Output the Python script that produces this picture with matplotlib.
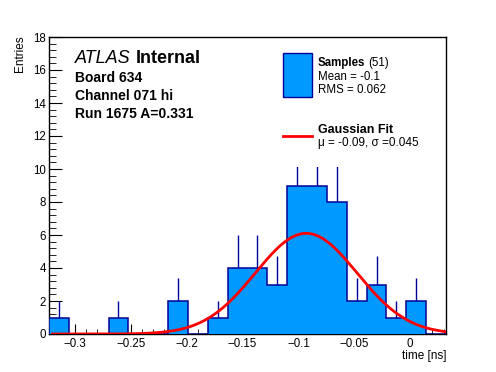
import numpy as np
import matplotlib.pyplot as plt
from matplotlib.patches import Rectangle
from matplotlib.lines import Line2D
from matplotlib.ticker import MultipleLocator

plt.rcParams['font.family'] = ['Liberation Sans', 'DejaVu Sans']

# histogram data (20 bins)
x_min, x_max = -0.3233, 0.0322
counts = [1, 0, 0, 1, 0, 0, 2, 0, 1, 4, 4, 3, 9, 9, 8, 2, 3, 1, 2, 0]
edges = np.linspace(x_min, x_max, len(counts) + 1)

# gaussian fit parameters
fit_amp = 6.1
fit_mu = -0.093
fit_sigma = 0.0455

W, H = 496, 372
fig = plt.figure(figsize=(W / 100, H / 100), dpi=100)
ax = fig.add_axes([49 / W, 1 - 334 / H, (446 - 49) / W, (334 - 37) / H])

def px(x, y):
    return x / W, 1 - y / H

fill_col = '#0099ff'
edge_col = '#000099'

counts = np.array(counts, dtype=float)
centers = 0.5 * (edges[:-1] + edges[1:])
nz = counts > 0
ax.vlines(centers[nz], counts[nz], counts[nz] + np.sqrt(counts[nz]),
          color=edge_col, lw=1, zorder=2)
ax.stairs(counts, edges, fill=True, color=fill_col, zorder=3)
ax.stairs(counts, edges, color=edge_col, lw=1.1, zorder=4)

xs = np.linspace(x_min + 0.003, x_max, 400)
ax.plot(xs, fit_amp * np.exp(-0.5 * ((xs - fit_mu) / fit_sigma) ** 2),
        color='#ff0000', lw=2, zorder=5)

ax.set_xlim(x_min, x_max)
ax.set_ylim(0, 18)
ax.xaxis.set_major_locator(MultipleLocator(0.05))
ax.xaxis.set_minor_locator(MultipleLocator(0.01))
ax.yaxis.set_major_locator(MultipleLocator(2))
ax.yaxis.set_minor_locator(MultipleLocator(0.4))
ax.tick_params(axis='both', which='both', direction='in', labelsize=8.3)
ax.tick_params(axis='x', which='major', length=7.2, pad=3)
ax.tick_params(axis='x', which='minor', length=3.5)
ax.tick_params(axis='y', which='major', length=9.4, pad=2)
ax.tick_params(axis='y', which='minor', length=5)
ax.xaxis.set_major_formatter(plt.FuncFormatter(
    lambda v, p: '0' if abs(v) < 1e-9 else ('%g' % v).replace('-', '\u2212')))
for s in ax.spines.values():
    s.set_linewidth(1)

fig.text(*px(20, 35), 'Entries', rotation=90, ha='center', va='top', fontsize=8.5)
fig.text(*px(446, 359), 'time [ns]', ha='right', va='baseline', fontsize=8.5)

rend = fig.canvas.get_renderer()

def after(t, gap):
    return t.get_window_extent(rend).x1 + gap

# labels
t_atlas = fig.text(*px(75, 63), 'ATLAS', style='italic', fontsize=13, va='baseline')
fig.text(after(t_atlas, 5) / W, 1 - 63 / H, 'Internal', weight='bold', fontsize=13,
         va='baseline')
info = ['Board 634', 'Channel 071 hi', 'Run 1675 A=0.331']
for i, t in enumerate(info):
    fig.text(*px(75, 82 + 18 * i), t, weight='bold', fontsize=10, va='baseline')

# legend
ax.add_patch(Rectangle(px(276, 167), 165 / W, 122 / H, transform=fig.transFigure,
                       facecolor='white', edgecolor='none', zorder=6, clip_on=False))
ax.add_patch(Rectangle(px(283, 97), 29 / W, 44 / H, transform=fig.transFigure,
                       facecolor=fill_col, edgecolor=edge_col, lw=1, zorder=7, clip_on=False))
ax.add_line(Line2D([283 / W, 312 / W], [1 - 136 / H] * 2, transform=fig.transFigure,
                   color='#ff0000', lw=2, zorder=7, clip_on=False))
t_samp = fig.text(*px(318, 66), 'Samples', weight='bold', fontsize=8.3, va='baseline', zorder=8)
fig.text(after(t_samp, 3) / W, 1 - 66 / H, '(51)', fontsize=8.3, va='baseline', zorder=8)
fig.text(*px(318, 80), 'Mean = -0.1', fontsize=8.3, va='baseline', zorder=8)
fig.text(*px(318, 93), 'RMS = 0.062', fontsize=8.3, va='baseline', zorder=8)
fig.text(*px(318, 133), 'Gaussian Fit', weight='bold', fontsize=9, va='baseline', zorder=8)
fig.text(*px(318, 146), '\u03bc = -0.09, \u03c3 =0.045', fontsize=8.5, va='baseline', zorder=8)

fig.savefig('out.png', dpi=100)
